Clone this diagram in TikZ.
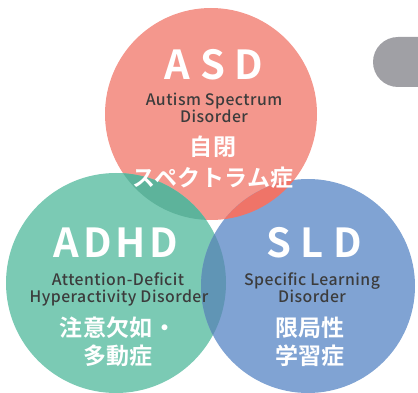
\documentclass[tikz,border=0pt]{standalone}
\usepackage{fontspec}
\setmainfont{Noto Sans CJK JP}
\newfontfamily\abbrfont{Noto Sans CJK JP}[UprightFont=* Bold, LetterSpace=24]
\newfontfamily\abbrnarrow{Noto Sans CJK JP}[UprightFont=* Bold, LetterSpace=10]
\newfontfamily\jpfont{Noto Sans CJK JP}[UprightFont=* Bold, LetterSpace=2]
\newfontfamily\enfont{Noto Sans CJK JP}[UprightFont=* Medium, LetterSpace=3]
\definecolor{redc}{HTML}{F4978D}
\definecolor{greenc}{HTML}{7BCAB4}
\definecolor{bluec}{HTML}{80A3D3}
\definecolor{rgc}{HTML}{5DB39B}
\definecolor{rbc}{HTML}{EF7468}
\definecolor{gbc}{HTML}{6095B5}
\definecolor{rgbc}{HTML}{5A8FA8}
\definecolor{grayc}{HTML}{A0A0A5}
\definecolor{darktext}{HTML}{3C3C3C}
\tikzset{
  abbr/.style={anchor=base, inner sep=0pt, text=white, font=\abbrfont\fontsize{40}{40}\selectfont},
  abbrn/.style={anchor=base, inner sep=0pt, text=white, font=\abbrnarrow\fontsize{40}{40}\selectfont},
  entext/.style={anchor=base, inner sep=0pt, text=darktext, font=\enfont\fontsize{15.8}{15.8}\selectfont},
  jptext/.style={anchor=base, inner sep=0pt, text=white, font=\jpfont\fontsize{23}{23}\selectfont}
}
\begin{document}
\begin{tikzpicture}[x=1pt,y=-1pt]
\useasboundingbox (0,0) rectangle (418,393);
\clip (0,0) rectangle (418,393);
\coordinate (R) at (211,114);
\coordinate (G) at (116,283);
\coordinate (B) at (308,286);
\def\rr{106pt}\def\rg{110pt}\def\rb{107pt}
% gray tab
\fill[grayc, rounded corners=25pt] (373,37) rectangle (470,87);
% circles
\fill[redc] (R) circle[radius=\rr];
\fill[greenc] (G) circle[radius=\rg];
\fill[bluec] (B) circle[radius=\rb];
% overlaps
\begin{scope}\clip (R) circle[radius=\rr]; \fill[rgc] (G) circle[radius=\rg]; \end{scope}
\begin{scope}\clip (R) circle[radius=\rr]; \fill[rbc] (B) circle[radius=\rb]; \end{scope}
\begin{scope}\clip (G) circle[radius=\rg]; \fill[gbc] (B) circle[radius=\rb]; \end{scope}
\begin{scope}\clip (R) circle[radius=\rr]; \clip (G) circle[radius=\rg]; \fill[rgbc] (B) circle[radius=\rb]; \end{scope}
% ASD
\node[abbr] (asd) at (214,80) {ASD};
\node[entext] (asd1) at (214,106) {Autism Spectrum};
\node[entext] (asd2) at (214,123) {Disorder};
\node[jptext] (asd3) at (213,156) {自閉};
\node[jptext] (asd4) at (213,186) {スペクトラム症};
% ADHD
\node[abbrn] (adhd) at (116,258) {ADHD};
\node[entext] (adhd1) at (118,285) {Attention-Deficit};
\node[entext] (adhd2) at (119,302) {Hyperactivity Disorder};
\node[jptext] (adhd3) at (118,336) {注意欠如・};
\node[jptext] (adhd4) at (118,364) {多動症};
% SLD
\node[abbr] (sld) at (314,258) {SLD};
\node[entext] (sld1) at (312,285) {Specific Learning};
\node[entext] (sld2) at (312,302) {Disorder};
\node[jptext] (sld3) at (310,336) {限局性};
\node[jptext] (sld4) at (310,364) {学習症};
\end{tikzpicture}
\end{document}
